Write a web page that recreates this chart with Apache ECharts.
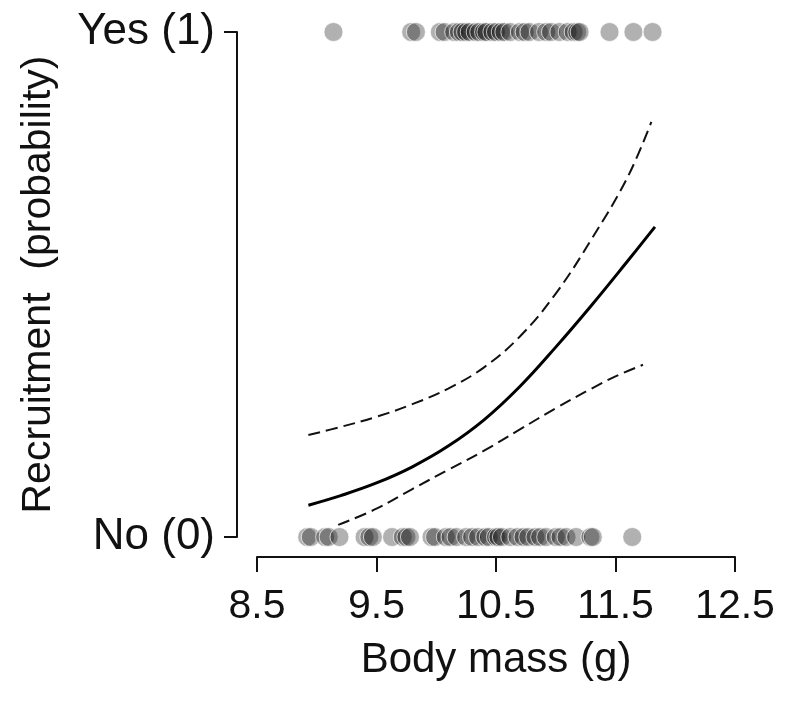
<!DOCTYPE html>
<html>
<head>
<meta charset="utf-8">
<script src="https://cdn.jsdelivr.net/npm/echarts@6/dist/echarts.min.js"></script>
<style>
html,body{margin:0;padding:0;background:#fff;}
#chart{width:788px;height:710px;}
</style>
</head>
<body>
<div id="chart"></div>
<script>
// Observed recruitment outcomes (body mass in g)
var recruitedYes = [9.14, 9.79, 9.83, 10.03, 10.07, 10.15, 10.19, 10.22, 10.25, 10.28, 10.33, 10.36, 10.40, 10.42, 10.47, 10.50, 10.54, 10.57, 10.62, 10.70, 10.74, 10.78, 10.86, 10.92, 10.96, 11.03, 11.10, 11.15, 11.18, 11.20, 11.45, 11.65, 11.81];
var recruitedNo = [8.92, 8.95, 9.07, 9.10, 9.19, 9.40, 9.44, 9.47, 9.63, 9.72, 9.75, 9.78, 9.96, 9.99, 10.08, 10.12, 10.17, 10.25, 10.30, 10.35, 10.41, 10.44, 10.50, 10.52, 10.55, 10.62, 10.68, 10.73, 10.77, 10.83, 10.87, 10.92, 11.00, 11.04, 11.09, 11.17, 11.29, 11.31, 11.64];

// Fitted probability and confidence bands
var fitX = [8.93, 9.2, 9.5, 9.8, 10.1, 10.4, 10.7, 11.0, 11.3, 11.6, 11.83];
var fitY = [0.063, 0.082, 0.107, 0.139, 0.180, 0.232, 0.298, 0.376, 0.459, 0.546, 0.614];
var upperX = [8.93, 9.2, 9.5, 9.8, 10.1, 10.4, 10.7, 11.0, 11.3, 11.6, 11.80];
var upperY = [0.202, 0.218, 0.238, 0.263, 0.294, 0.336, 0.397, 0.482, 0.590, 0.712, 0.822];
var lowerX = [9.18, 9.5, 9.8, 10.1, 10.4, 10.7, 11.0, 11.3, 11.5, 11.73];
var lowerY = [0.024, 0.056, 0.095, 0.133, 0.171, 0.213, 0.255, 0.294, 0.318, 0.341];

var xTicks = [8.5, 9.5, 10.5, 11.5, 12.5];
var yTickLabels = ['No (0)', 'Yes (1)'];

function zip(xs, ys) { return xs.map(function (x, i) { return [x, ys[i]]; }); }
function row(xs, v) { return xs.map(function (x) { return [x, v]; }); }

var font = "'Liberation Sans', Arial, sans-serif";
var chart = echarts.init(document.getElementById('chart'), null, {renderer: 'canvas'});
chart.setOption({
  animation: false,
  backgroundColor: '#ffffff',
  grid: {left: 257, right: 53, top: 32, bottom: 173},
  xAxis: {
    type: 'value', min: 8.5, max: 12.5, interval: 1, offset: 20,
    name: 'Body mass (g)', nameLocation: 'middle', nameGap: 82,
    nameTextStyle: {fontFamily: font, fontSize: 42, color: '#111'},
    axisLine: {show: true, onZero: false, lineStyle: {color: '#111', width: 2}},
    axisTick: {show: true, length: 15, lineStyle: {color: '#111', width: 2},
      customValues: xTicks},
    axisLabel: {fontFamily: font, fontSize: 41, color: '#111', margin: 29,
      customValues: xTicks,
      formatter: function (v) { return v.toFixed(1); }},
    splitLine: {show: false}
  },
  yAxis: {
    type: 'value', min: 0, max: 1, interval: 1, offset: 20,
    name: 'Recruitment  (probability)', nameLocation: 'middle', nameGap: 178,
    nameTextStyle: {fontFamily: font, fontSize: 41, color: '#111'},
    axisLine: {show: true, onZero: false, lineStyle: {color: '#111', width: 2}},
    axisTick: {show: true, length: 13, lineStyle: {color: '#111', width: 2}},
    axisLabel: {fontFamily: font, fontSize: 44, color: '#111', margin: 22,
      formatter: function (v) { return yTickLabels[Math.round(v)]; }},
    splitLine: {show: false}
  },
  series: [
    {type: 'line', data: zip(upperX, upperY), smooth: 0.4, symbol: 'none',
      lineStyle: {color: '#111', width: 2, type: [12, 6]}},
    {type: 'line', data: zip(lowerX, lowerY), smooth: 0.4, symbol: 'none',
      lineStyle: {color: '#111', width: 2, type: [12, 6]}},
    {type: 'line', data: zip(fitX, fitY), smooth: 0.4, symbol: 'none',
      lineStyle: {color: '#000', width: 3}},
    {type: 'scatter', data: row(recruitedYes, 1), symbolSize: 19, clip: false,
      itemStyle: {color: 'rgba(0,0,0,0.38)', borderColor: 'rgba(255,255,255,0.85)', borderWidth: 1}},
    {type: 'scatter', data: row(recruitedNo, 0), symbolSize: 19, clip: false,
      itemStyle: {color: 'rgba(0,0,0,0.38)', borderColor: 'rgba(255,255,255,0.85)', borderWidth: 1}}
  ]
});
</script>
</body>
</html>
